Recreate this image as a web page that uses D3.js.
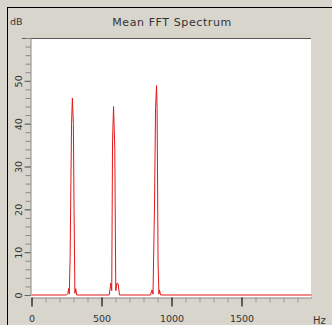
<!DOCTYPE html>
<html lang="en">
<head>
  <meta charset="UTF-8">
  <title>Mean FFT Spectrum</title>
  <script src="https://d3js.org/d3.v7.min.js"></script>
  <style>
    body { margin: 0; background: #d8d5cd; }
    text { font-family: "DejaVu Sans", Verdana, sans-serif; fill: #333; }
  </style>
</head>
<body>
  <svg id="fft" width="332" height="325"></svg>
  <script>
    // spectrum: frequency (Hz) and level (dB)
    const freqHz  = [0, 250, 260, 265, 270, 276, 286, 292, 299, 304, 310, 316, 322,
                     555, 567, 573, 579, 586, 595, 602, 611, 619, 628,
                     850, 861, 868, 879, 886, 893, 897, 904, 910, 914, 922, 2000];
    const levelDb = [0, 0, 0.4, 1.5, 0.2, 9, 40, 46, 40, 20, 0.4, 1.5, 0,
                     0, 2.8, 1.0, 36, 44, 34, 1.0, 2.8, 2.6, 0,
                     0, 1.2, 0.2, 21.7, 43.5, 48.9, 44, 7.7, 0.2, 1.2, 0, 0];
    const xMajor = [0, 500, 1000, 1500];
    const yMajor = [0, 10, 20, 30, 40, 50];

    const svg = d3.select("svg#fft");
    const plotLeft = 31, plotRight = 311, plotTop = 38, plotBottom = 298;

    const x = d3.scaleLinear().domain([0, 2000]).range([31.5, 311.5]);
    const y = d3.scaleLinear().domain([0, 60]).range([295, 38]);

    // outer frame (only top and left edges show)
    svg.append("line").attr("x1", 7).attr("x2", 332).attr("y1", 7.5).attr("y2", 7.5)
       .style("stroke", "#000");
    svg.append("line").attr("x1", 7.5).attr("x2", 7.5).attr("y1", 7).attr("y2", 325)
       .style("stroke", "#000");

    // plot area
    svg.append("rect").attr("x", plotLeft).attr("y", plotTop)
       .attr("width", plotRight - plotLeft).attr("height", plotBottom - plotTop)
       .style("fill", "#fff");
    svg.append("line").attr("x1", 22).attr("x2", plotRight).attr("y1", plotTop + 0.5).attr("y2", plotTop + 0.5)
       .style("stroke", "#555");

    // y axis: minor every 2 dB, major every 10 dB
    const yMinor = svg.append("g").attr("transform", `translate(${plotLeft - 0.5},0)`)
       .call(d3.axisLeft(y).tickValues(d3.range(0, 60, 2)).tickSize(5).tickFormat(""));
    yMinor.select(".domain").attr("stroke", "#888");
    yMinor.selectAll("line").attr("stroke", "#888");

    const yAxis = svg.append("g").attr("transform", `translate(${plotLeft - 0.5},0)`)
       .call(d3.axisLeft(y).tickValues(yMajor).tickSize(6).tickFormat(d3.format("d")));
    yAxis.select(".domain").remove();
    yAxis.selectAll("line").attr("stroke", "#666");
    yAxis.selectAll(".tick text")
         .attr("x", 0).attr("y", 0)
         .attr("dy", "0.35em")
         .attr("text-anchor", "middle")
         .attr("transform", "translate(-12,0) rotate(-90)")
         .style("font-size", "9.5px");

    // x axis: minor every 100 Hz, major every 500 Hz
    const xMinor = svg.append("g").attr("transform", `translate(0,${plotBottom - 0.5})`)
       .call(d3.axisBottom(x).tickValues(d3.range(0, 2000, 100)).tickSize(5).tickFormat("").tickSizeOuter(0));
    xMinor.select(".domain").attr("stroke", "#888");
    xMinor.selectAll("line").attr("stroke", "#999");

    const xAxis = svg.append("g").attr("transform", `translate(0,${plotBottom - 0.5})`)
       .call(d3.axisBottom(x).tickValues(xMajor).tickSize(9).tickFormat(d3.format("d")));
    xAxis.select(".domain").remove();
    xAxis.selectAll("line").attr("stroke", "#222").attr("stroke-width", 1.3);
    xAxis.selectAll("text")
         .attr("y", 18).attr("dy", "0.71em")
         .style("font-size", "9.5px").attr("fill", "#333");

    // spectrum line
    const pts = freqHz.map((f, i) => [f, levelDb[i]]);
    svg.append("path")
       .datum(pts)
       .attr("d", d3.line().x(d => x(d[0])).y(d => y(d[1])))
       .style("fill", "none")
       .style("stroke", "#e41818")
       .style("stroke-width", 1);

    // labels
    svg.append("text").attr("x", 172).attr("y", 26).attr("text-anchor", "middle")
       .style("font-size", "11px").style("letter-spacing", "0.6px").text("Mean FFT Spectrum");
    svg.append("text").attr("x", 10).attr("y", 25).style("font-size", "9.5px").text("dB");
    svg.append("text").attr("x", 313).attr("y", 324).style("font-size", "10px").text("Hz");
  </script>
</body>
</html>
